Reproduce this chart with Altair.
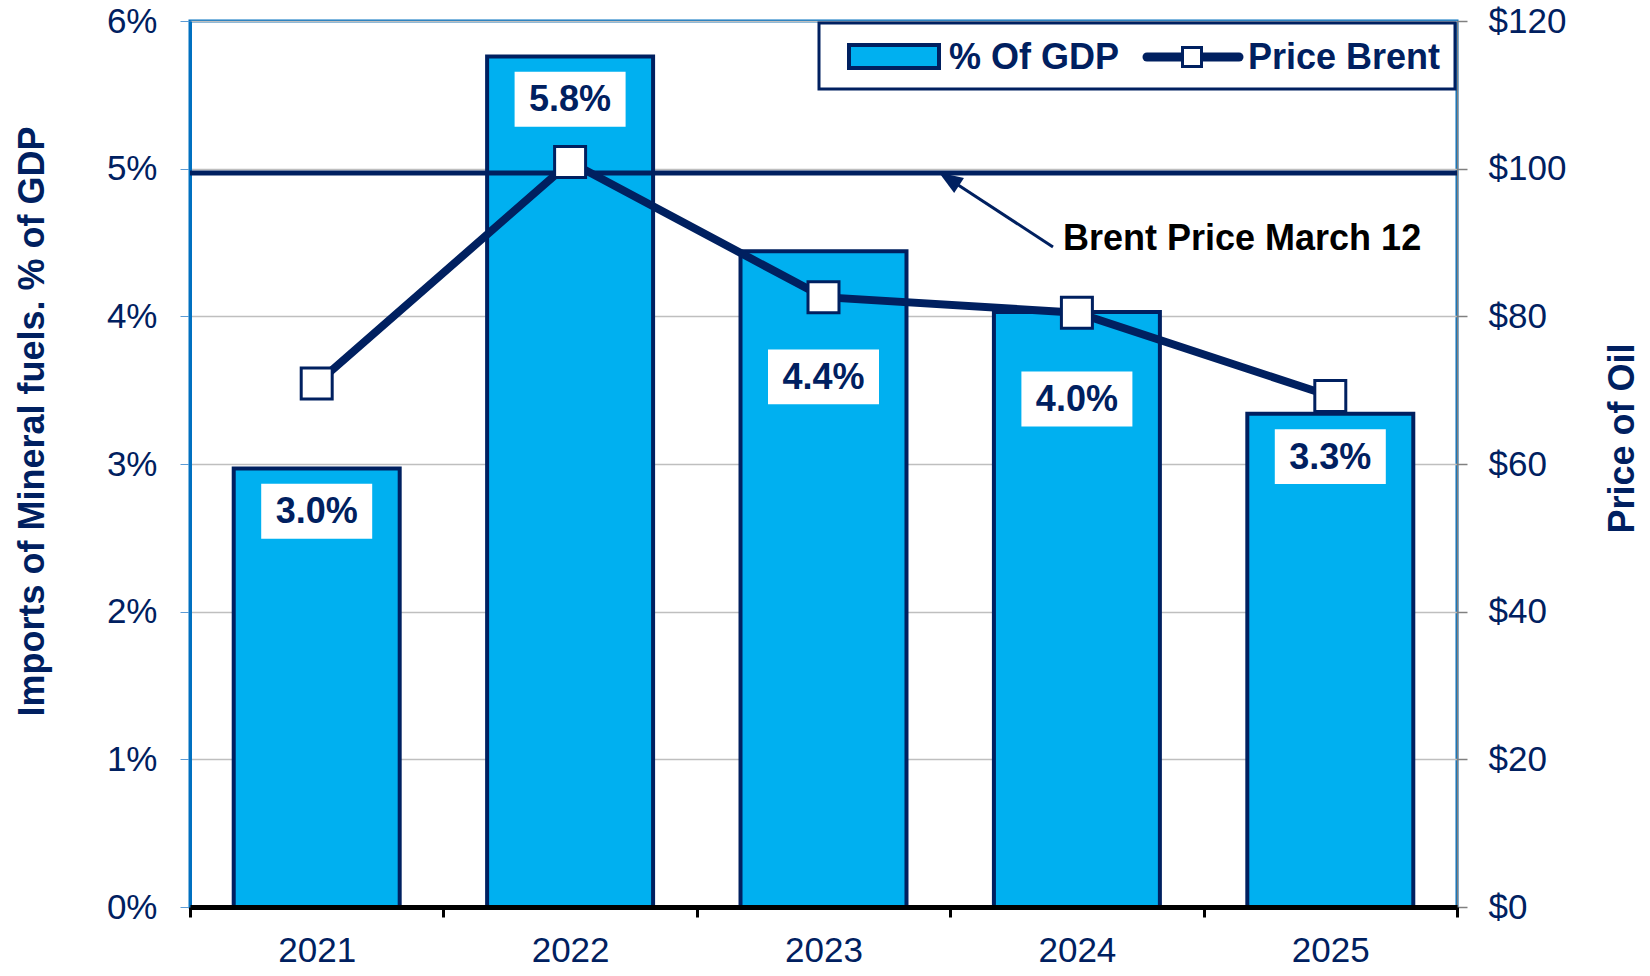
import altair as alt
import pandas as pd

# ---- data -------------------------------------------------------------
years = ["2021", "2022", "2023", "2024", "2025"]
share_of_gdp = [0.0297, 0.0576, 0.0444, 0.0403, 0.0334]   # mineral fuel imports, share of GDP
brent_price = [70.9, 100.9, 82.6, 80.5, 69.2]             # Brent, USD per barrel
brent_march_12 = [99.4]                                   # spot reference line

# ---- style ------------------------------------------------------------
NAVY = "#002060"
CYAN = "#00B0F0"
BLUE = "#0070C0"
FONT = "Liberation Sans"
W, H = 1267, 886

df = pd.DataFrame({"year": years, "share": share_of_gdp, "price": brent_price})
# value labels sit just under each bar top; 2023/2024 drop lower to clear the price line
label_drop = [0.0029, 0.0029, 0.0085, 0.0059, 0.0029]
df["label_mid"] = [s - d for s, d in zip(share_of_gdp, label_drop)]
df["label_lo"] = df["label_mid"] - 0.00186
df["label_hi"] = df["label_mid"] + 0.00186

x_enc = alt.X(
    "year:N",
    sort=years,
    title=None,
    scale=alt.Scale(paddingInner=0, paddingOuter=0),
    axis=alt.Axis(
        tickBand="extent", domainColor="black", domainWidth=5,
        tickColor="black", tickWidth=3, tickSize=10, labelPadding=16,
        labelFont=FONT, labelFontSize=35, labelColor=NAVY, labelAngle=0,
        grid=False, zindex=1,
    ),
)

left_scale = alt.Scale(domain=[0, 0.06], nice=False)
right_scale = alt.Scale(domain=[0, 120], nice=False)

left_axis = alt.Axis(
    orient="left", values=[0, 0.01, 0.02, 0.03, 0.04, 0.05, 0.06], format=".0%",
    title="Imports of Mineral fuels. % of GDP",
    titleFont=FONT, titleFontSize=36, titleFontWeight="bold", titleColor=NAVY,
    titleAngle=270, titleX=-158, titleY=400, titleAlign="center", titleBaseline="middle",
    grid=True, gridColor="#BFBFBF", gridWidth=1.5,
    domainColor=BLUE, domainWidth=3, tickColor="#5B9BD5", tickWidth=1, tickSize=10,
    labelPadding=23, labelFont=FONT, labelFontSize=35, labelColor=NAVY,
)

right_axis = alt.Axis(
    orient="right", values=[0, 20, 40, 60, 80, 100, 120], format="$,.0f",
    title="Price of Oil",
    titleFont=FONT, titleFontSize=36, titleFontWeight="bold", titleColor=NAVY,
    titleAngle=270, titleX=165, titleY=417, titleAlign="center", titleBaseline="middle",
    grid=False, domainColor="#808080", domainWidth=1.5,
    tickColor="#808080", tickWidth=1.5, tickSize=10,
    labelPadding=21, labelFont=FONT, labelFontSize=35, labelColor=NAVY,
)

y_right = alt.Y("price:Q", scale=right_scale, axis=right_axis)

base = alt.Chart(df)

bars = base.mark_bar(width={"band": 0.655}, fill=CYAN, stroke=NAVY, strokeWidth=4).encode(
    x=x_enc, y=alt.Y("share:Q", scale=left_scale, axis=left_axis)
)
label_boxes = base.mark_bar(width=111, fill="white").encode(
    x=x_enc,
    y=alt.Y("label_lo:Q", scale=left_scale, axis=left_axis),
    y2="label_hi:Q",
)
label_text = base.mark_text(
    font=FONT, fontSize=36, fontWeight="bold", color=NAVY, baseline="middle", dy=1
).encode(
    x=x_enc,
    y=alt.Y("label_mid:Q", scale=left_scale, axis=left_axis),
    text=alt.Text("share:Q", format=".1%"),
)

march_rule = alt.Chart(pd.DataFrame({"price": brent_march_12})).mark_rule(
    color=NAVY, strokeWidth=5
).encode(y=y_right)
price_line = base.mark_line(color=NAVY, strokeWidth=8).encode(x=x_enc, y=y_right)
price_pts = base.mark_point(
    shape="square", size=960, filled=True, fill="white", stroke=NAVY, strokeWidth=3, opacity=1
).encode(x=x_enc, y=y_right)

left_group = alt.layer(bars, label_boxes, label_text)
right_group = alt.layer(march_rule, price_line, price_pts)

# ---- annotation and legend (plot-area pixel positions) -----------------
one = pd.DataFrame({"k": [0]})

arrow_shaft = alt.Chart(one).mark_rule(color=NAVY, strokeWidth=3).encode(
    x=alt.value(863), y=alt.value(226), x2=alt.value(759), y2=alt.value(158)
)
arrow_head = alt.Chart(one).mark_point(
    shape="M0,-1L0.75,1L-0.75,1Z", size=576, angle=303, filled=True, fill=NAVY, opacity=1
).encode(x=alt.value(759), y=alt.value(158))
arrow_text = alt.Chart(one).mark_text(
    text="Brent Price March 12", align="left", baseline="alphabetic",
    font=FONT, fontSize=36, fontWeight="bold", color="black",
).encode(x=alt.value(873), y=alt.value(229))

legend_box = alt.Chart(one).mark_rect(fill="white", stroke=NAVY, strokeWidth=3).encode(
    x=alt.value(629), x2=alt.value(1265), y=alt.value(2), y2=alt.value(68)
)
legend_swatch = alt.Chart(one).mark_rect(fill=CYAN, stroke=NAVY, strokeWidth=4).encode(
    x=alt.value(659), x2=alt.value(749), y=alt.value(24), y2=alt.value(47)
)
legend_bar_text = alt.Chart(one).mark_text(
    text="% Of GDP", align="left", baseline="middle",
    font=FONT, fontSize=36, fontWeight="bold", color=NAVY,
).encode(x=alt.value(759), y=alt.value(37))
legend_line = alt.Chart(one).mark_rule(color=NAVY, strokeWidth=9, strokeCap="round").encode(
    x=alt.value(957), x2=alt.value(1049), y=alt.value(36)
)
legend_square = alt.Chart(one).mark_point(
    shape="square", size=361, filled=True, fill="white", stroke=NAVY, strokeWidth=3, opacity=1
).encode(x=alt.value(1002), y=alt.value(36))
legend_line_text = alt.Chart(one).mark_text(
    text="Price Brent", align="left", baseline="middle",
    font=FONT, fontSize=36, fontWeight="bold", color=NAVY,
).encode(x=alt.value(1058), y=alt.value(37))

chart = (
    alt.layer(
        left_group, right_group,
        arrow_shaft, arrow_head, arrow_text,
        legend_box, legend_swatch, legend_bar_text, legend_line, legend_square, legend_line_text,
    )
    .resolve_scale(y="independent")
    .properties(
        width=W, height=H,
        padding={"left": 190, "top": 21, "right": 193, "bottom": 69},
        autosize=alt.AutoSizeParams(type="none"),
        background="white",
    )
    .configure_view(stroke=BLUE, strokeWidth=3)
)

chart.save("out.html", embed_options={"renderer": "svg", "actions": False})
